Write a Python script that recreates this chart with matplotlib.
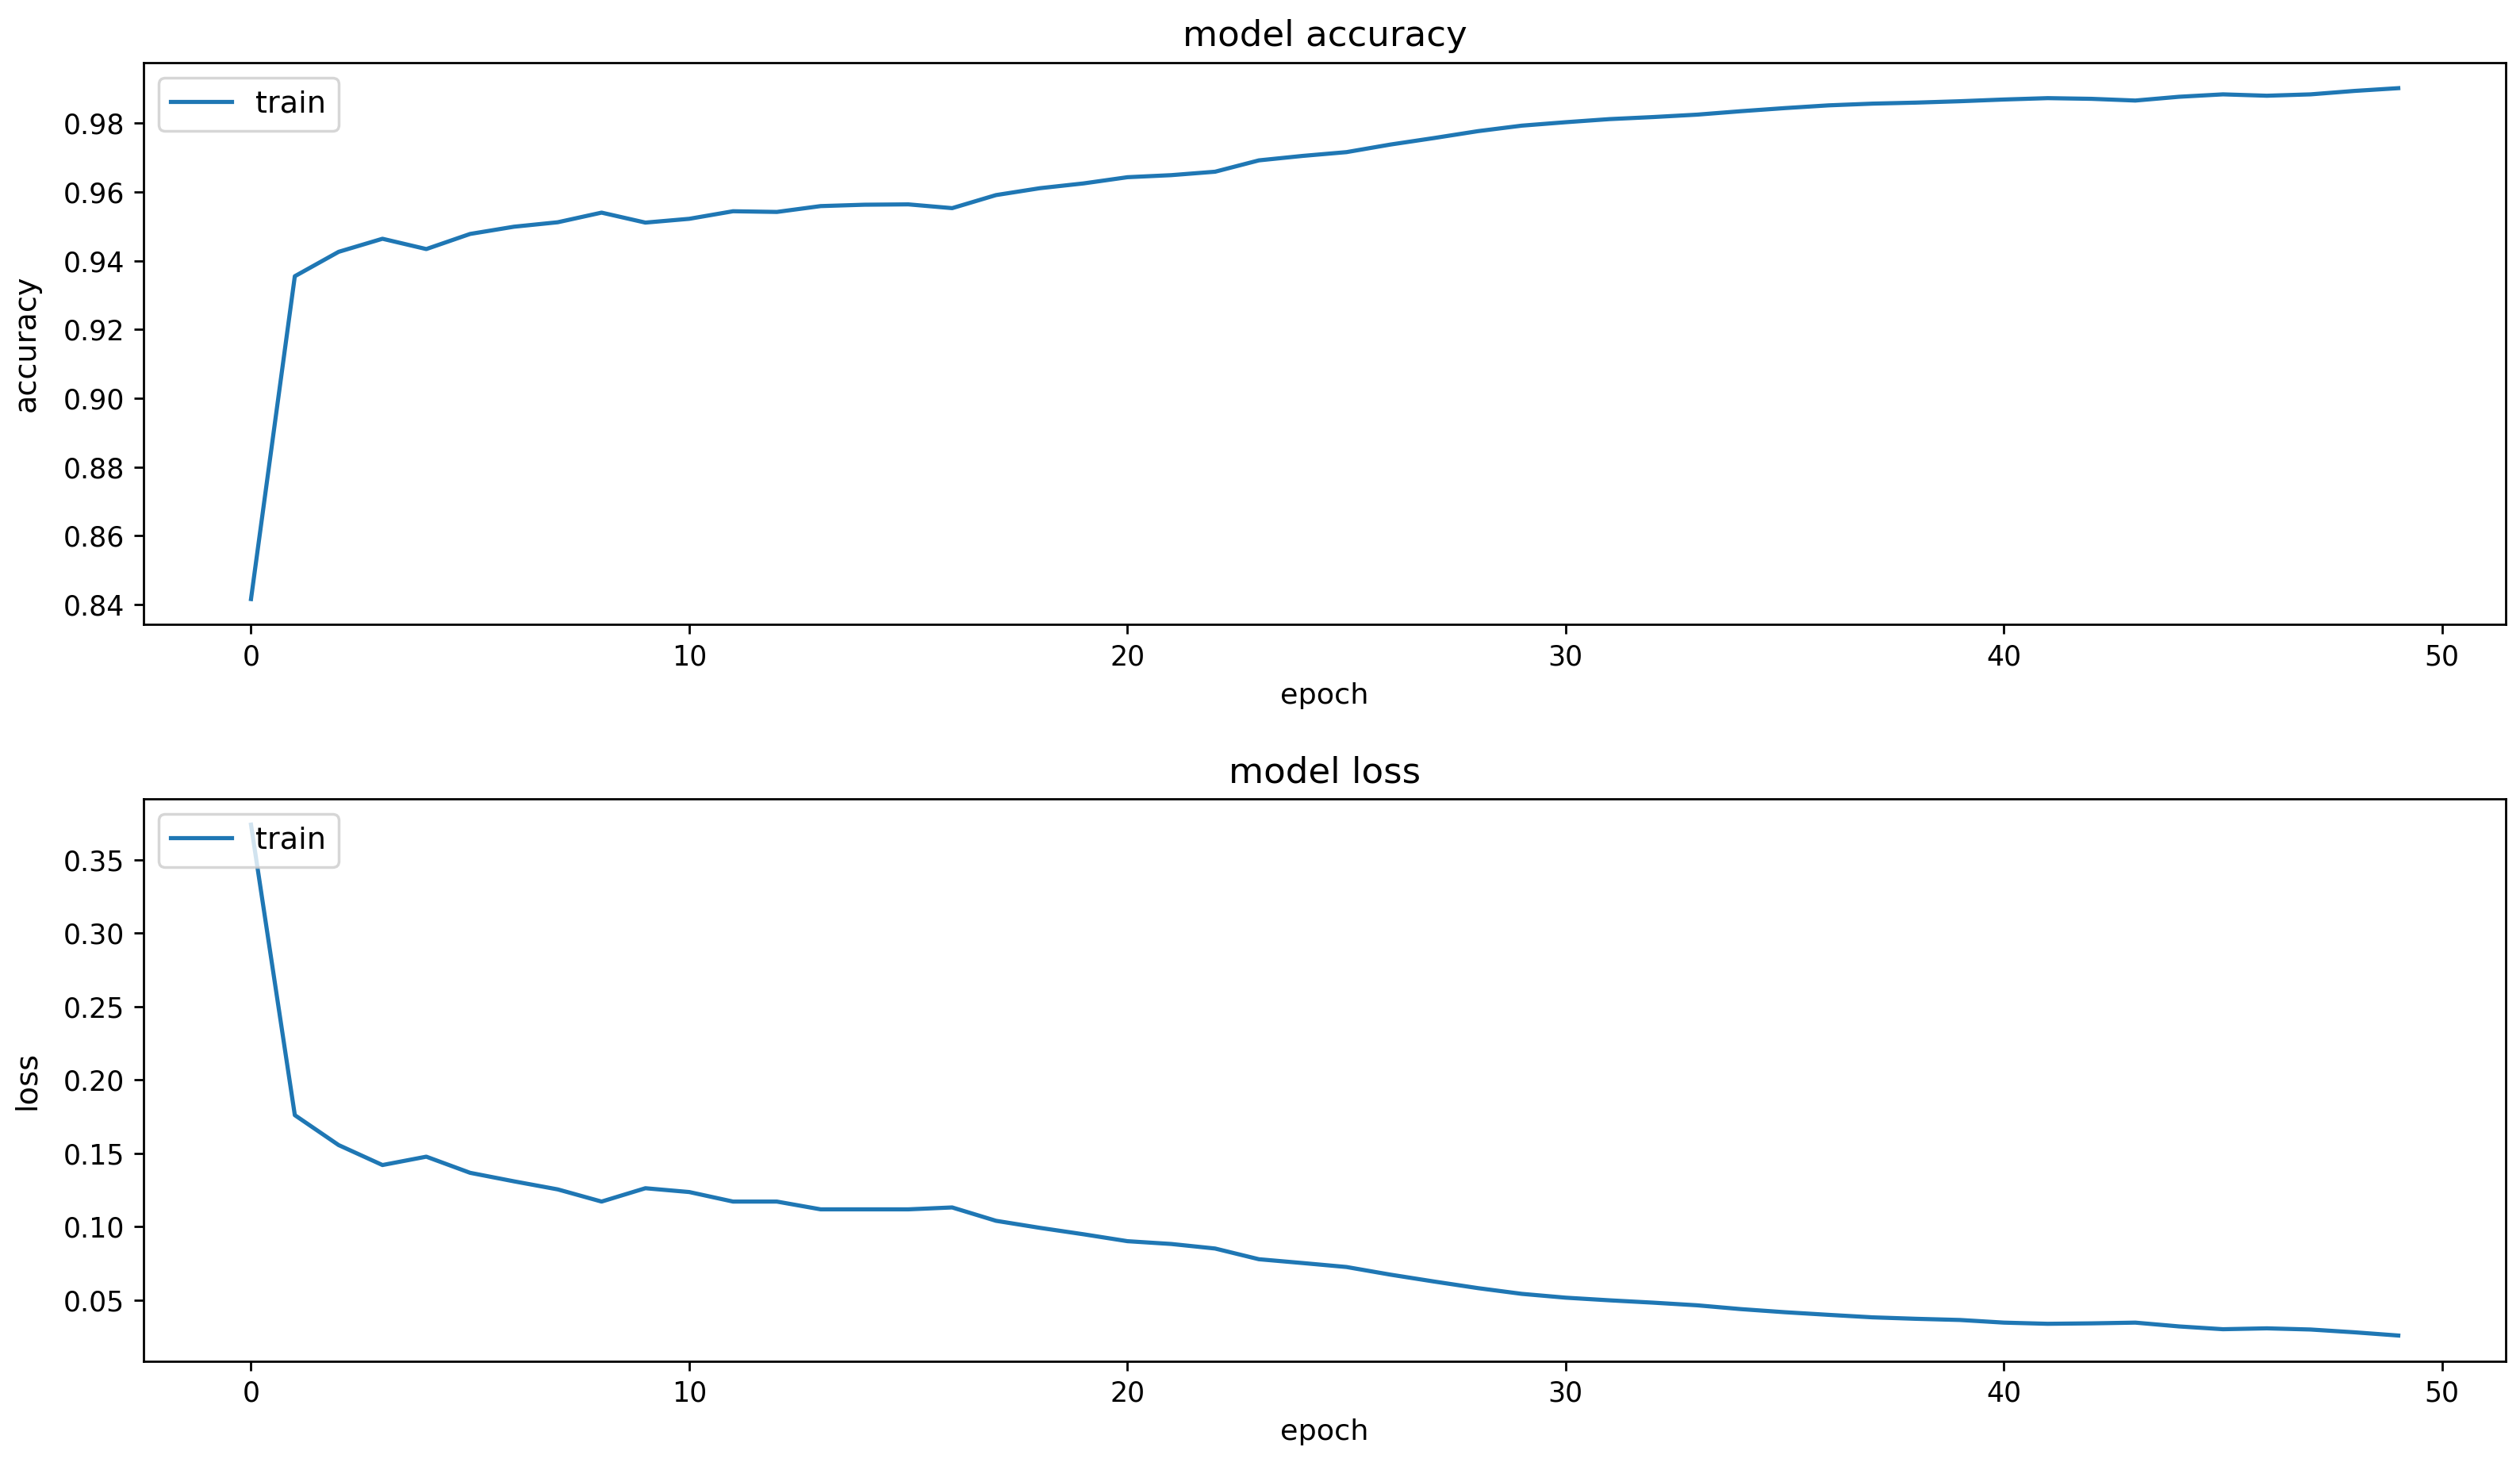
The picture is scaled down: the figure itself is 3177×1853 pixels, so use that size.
import matplotlib
matplotlib.use("Agg")
import matplotlib.pyplot as plt

epochs = list(range(50))
accuracy = [0.8416, 0.9355, 0.9426, 0.9464, 0.9434, 0.9478, 0.9499, 0.9512, 0.9540, 0.9511,
            0.9522, 0.9544, 0.9542, 0.9559, 0.9563, 0.9564, 0.9553, 0.9591, 0.9611, 0.9625,
            0.9643, 0.9649, 0.9659, 0.9692, 0.9705, 0.9716, 0.9738, 0.9757, 0.9777, 0.9793,
            0.9803, 0.9812, 0.9818, 0.9825, 0.9835, 0.9844, 0.9852, 0.9857, 0.9860, 0.9864,
            0.9869, 0.9873, 0.9871, 0.9866, 0.9877, 0.9884, 0.9880, 0.9884, 0.9894, 0.9902]
loss = [0.3740, 0.1760, 0.1556, 0.1420, 0.1477, 0.1367, 0.1309, 0.1254, 0.1171, 0.1262,
        0.1236, 0.1171, 0.1171, 0.1118, 0.1118, 0.1118, 0.1131, 0.1040, 0.0992, 0.0948,
        0.0901, 0.0882, 0.0851, 0.0778, 0.0752, 0.0725, 0.0673, 0.0626, 0.0581, 0.0542,
        0.0516, 0.0498, 0.0482, 0.0464, 0.0438, 0.0417, 0.0399, 0.0382, 0.0372, 0.0364,
        0.0346, 0.0338, 0.0341, 0.0346, 0.0320, 0.0301, 0.0307, 0.0299, 0.0280, 0.0258]

fig, (ax1, ax2) = plt.subplots(2, 1, figsize=(3177 / 250, 1853 / 250), dpi=250)
fig.subplots_adjust(left=0.057, right=0.9943, top=0.9574, bottom=0.0741, hspace=0.3105)

for ax, values, name in ((ax1, accuracy, "accuracy"), (ax2, loss, "loss")):
    ax.plot(epochs, values, label="train")
    ax.set_title("model " + name, fontsize=13)
    ax.set_ylabel(name, fontsize=11, labelpad=8)
    ax.set_xlabel("epoch", fontsize=10.5)
    ax.legend(loc="upper left", fontsize=11)

fig.savefig("out.png", dpi=250)
